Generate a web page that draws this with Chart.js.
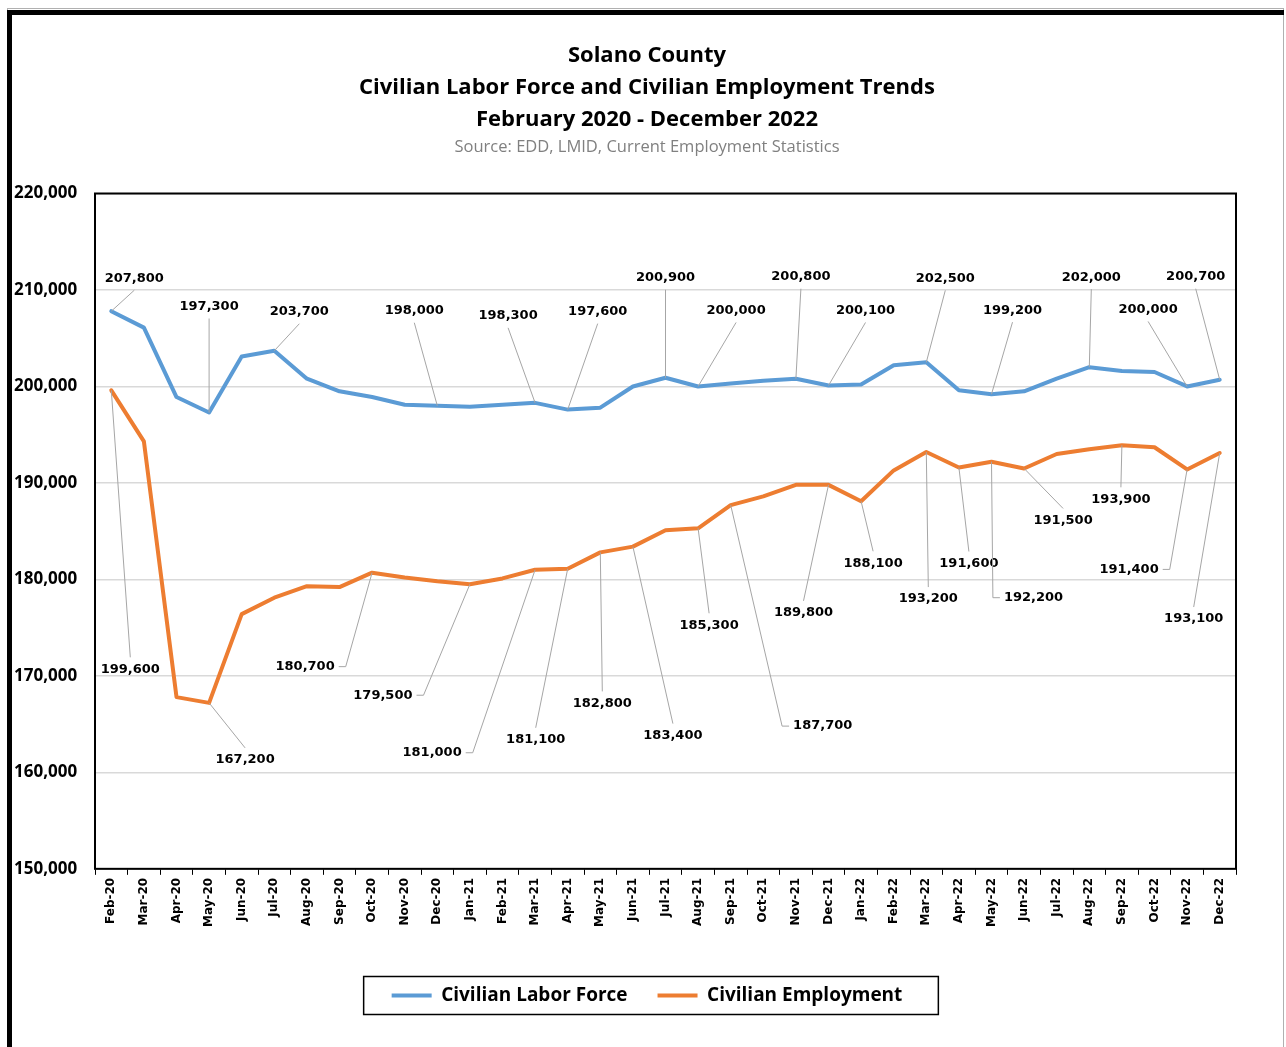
<!DOCTYPE html>
<html>
<head>
<meta charset="utf-8">
<title>Solano County Labor Force</title>
<script src="https://cdn.jsdelivr.net/npm/chart.js@4/dist/chart.umd.min.js"></script>
<style>
  html, body { margin: 0; padding: 0; background: #fff; }
  #wrap { position: relative; width: 1286px; height: 1047px; }
</style>
</head>
<body>
<div id="wrap"><canvas id="chart" width="1286" height="1047"></canvas></div>
<script>
const months = [
  "Feb-20", "Mar-20", "Apr-20", "May-20", "Jun-20", "Jul-20", "Aug-20", "Sep-20",
  "Oct-20", "Nov-20", "Dec-20", "Jan-21", "Feb-21", "Mar-21", "Apr-21", "May-21",
  "Jun-21", "Jul-21", "Aug-21", "Sep-21", "Oct-21", "Nov-21", "Dec-21", "Jan-22",
  "Feb-22", "Mar-22", "Apr-22", "May-22", "Jun-22", "Jul-22", "Aug-22", "Sep-22",
  "Oct-22", "Nov-22", "Dec-22"
];

const laborForce = [
  207800, 206100, 198900, 197300, 203100, 203700, 200800, 199500,
  198900, 198100, 198000, 197900, 198100, 198300, 197600, 197800,
  200000, 200900, 200000, 200300, 200600, 200800, 200100, 200200,
  202200, 202500, 199600, 199200, 199500, 200800, 202000, 201600,
  201500, 200000, 200700
];

const employment = [
  199600, 194300, 167800, 167200, 176400, 178100, 179300, 179200,
  180700, 180200, 179800, 179500, 180100, 181000, 181100, 182800,
  183400, 185100, 185300, 187700, 188600, 189800, 189800, 188100,
  191300, 193200, 191600, 192200, 191500, 193000, 193500, 193900,
  193700, 191400, 193100
];

const yTickValues = [150000, 160000, 170000, 180000, 190000, 200000, 210000, 220000];

// where each called-out value's label sits, relative to its point (px)
const laborLabelOffsets = {
  0: [23, -33], 3: [0, -106], 5: [25, -39], 10: [-23, -95], 13: [-27, -87],
  14: [30, -98], 17: [0, -100], 18: [38, -76], 21: [5, -102], 22: [37, -75],
  25: [19, -84], 27: [21, -84], 30: [2, -90], 33: [-39, -77], 34: [-24, -103]
};
const employmentLabelOffsets = {
  0: [19, 279], 3: [36, 57], 8: [-67, 94], 11: [-87, 111], 13: [-103, 183],
  14: [-32, 171], 15: [2, 151], 16: [40, 189], 18: [11, 97], 19: [92, 221],
  22: [-25, 128], 23: [12, 62], 25: [2, 147], 26: [10, 96], 27: [42, 136],
  28: [39, 52], 31: [-1, 54], 33: [-58, 100], 34: [-26, 166]
};

const BLUE = "#5b9bd5";
const ORANGE = "#ed7d31";
const fmt = (v) => v.toLocaleString("en-US");

// outer frame of the picture, plot border and legend box
const framePlugin = {
  id: "frame",
  beforeDraw(chart) {
    const ctx = chart.ctx;
    ctx.save();
    ctx.fillStyle = "#fff";
    ctx.fillRect(0, 0, chart.width, chart.height);
    ctx.strokeStyle = "#b0b0b0";
    ctx.lineWidth = 1;
    ctx.strokeRect(7.5, 8.5, 1276, 1050);
    ctx.fillStyle = "#000";
    ctx.fillRect(7, 10, 1277, 5);
    ctx.fillRect(7, 10, 5, chart.height);
    ctx.restore();
  },
  afterDraw(chart) {
    const ctx = chart.ctx;
    const a = chart.chartArea;
    ctx.save();
    ctx.strokeStyle = "#000";
    ctx.lineWidth = 2;
    ctx.strokeRect(a.left, a.top, a.right - a.left, a.bottom - a.top);

    const boxes = chart.legend.legendHitBoxes;
    if (boxes && boxes.length) {
      const left = Math.min(...boxes.map((b) => b.left));
      const right = Math.max(...boxes.map((b) => b.left + b.width));
      const mid = boxes[0].top + boxes[0].height / 2;
      ctx.lineWidth = 1.5;
      ctx.strokeRect(left - 28, mid - 19, right - left + 64, 38);
    }
    ctx.restore();
  }
};

// Excel-style callout labels with leader lines
const calloutPlugin = {
  id: "callouts",
  afterDatasetsDraw(chart) {
    const ctx = chart.ctx;
    const sets = [laborLabelOffsets, employmentLabelOffsets];
    ctx.save();
    ctx.font = "bold 13px 'DejaVu Sans'";
    ctx.textAlign = "center";
    ctx.textBaseline = "middle";
    sets.forEach((offsets, di) => {
      const meta = chart.getDatasetMeta(di);
      const values = chart.data.datasets[di].data;
      Object.keys(offsets).forEach((key) => {
        const i = Number(key);
        const pt = meta.data[i];
        const text = fmt(values[i]);
        const [dx, dy] = offsets[key];
        const cx = pt.x + dx;
        const cy = pt.y + dy;
        const halfW = ctx.measureText(text).width / 2;
        const halfH = 8;

        ctx.strokeStyle = "#a6a6a6";
        ctx.lineWidth = 1;
        ctx.beginPath();
        ctx.moveTo(pt.x, pt.y);
        if (Math.abs(pt.x - cx) > halfW + 12) {
          const side = Math.sign(pt.x - cx);
          ctx.lineTo(cx + side * (halfW + 11), cy);
          ctx.lineTo(cx + side * (halfW + 4), cy);
        } else if (pt.y < cy) {
          ctx.lineTo(cx, cy - halfH - 4);
        } else {
          ctx.lineTo(cx, cy + halfH + 4);
        }
        ctx.stroke();

        ctx.fillStyle = "#000";
        ctx.fillText(text, cx, cy);
      });
    });
    ctx.restore();
  }
};

new Chart(document.getElementById("chart"), {
  type: "line",
  data: {
    labels: months,
    datasets: [
      {
        label: "Civilian Labor Force",
        data: laborForce,
        borderColor: BLUE,
        backgroundColor: BLUE,
        borderWidth: 4,
        borderCapStyle: "round",
        borderJoinStyle: "round",
        pointRadius: 0,
        tension: 0,
      },
      {
        label: "Civilian Employment",
        data: employment,
        borderColor: ORANGE,
        backgroundColor: ORANGE,
        borderWidth: 4,
        borderCapStyle: "round",
        borderJoinStyle: "round",
        pointRadius: 0,
        tension: 0,
      },
    ],
  },
  options: {
    responsive: false,
    animation: false,
    layout: {padding: {left: 14, right: 6, top: 0, bottom: 32}},
    plugins: {
      title: {
        display: true,
        text: [
          "Solano County",
          "Civilian Labor Force and Civilian Employment Trends",
          "February 2020 - December 2022",
        ],
        color: "#000",
        font: {family: "'Open Sans'", size: 22, weight: "bold", lineHeight: 1.45},
        padding: {top: 40, bottom: 0},
      },
      subtitle: {
        display: true,
        text: "Source: EDD, LMID, Current Employment Statistics",
        color: "#808080",
        font: {family: "'Open Sans'", size: 16.5, lineHeight: 1.2},
        padding: {top: 2, bottom: 36},
      },
      legend: {
        position: "bottom",
        labels: {
          color: "#000",
          font: {family: "'Open Sans'", size: 19, weight: "bold"},
          usePointStyle: true,
          pointStyle: "line",
          pointStyleWidth: 40,
          padding: 30,
        },
      },
      tooltip: {enabled: false},
    },
    scales: {
      x: {
        offset: true,
        afterFit(scale) {
          scale.height += 26;
        },
        grid: {
          offset: true,
          drawOnChartArea: false,
          drawTicks: true,
          tickLength: 6,
          color: "#000",
        },
        border: {display: false},
        ticks: {
          autoSkip: false,
          maxRotation: 90,
          minRotation: 90,
          color: "#000",
          padding: 3,
          font: {family: "'DejaVu Sans'", size: 12, weight: "bold"},
        },
      },
      y: {
        min: 150000,
        max: 220000,
        afterBuildTicks(scale) {
          scale.ticks = yTickValues.map((v) => ({value: v}));
        },
        afterFit(scale) {
          scale.width = 81;
        },
        grid: {color: "#d9d9d9", lineWidth: 1.5, drawTicks: false},
        border: {display: false},
        ticks: {
          crossAlign: "far",
          padding: 0,
          color: "#000",
          font: {family: "'Open Sans'", size: 17, weight: "bold"},
          callback: (v) => fmt(v),
        },
      },
      // empty right-hand strip, keeps the plot where the original has it
      spacer: {
        type: "linear",
        position: "right",
        afterFit(scale) {
          scale.width = 44;
        },
        grid: {display: false},
        border: {display: false},
        ticks: {display: false},
      },
    },
  },
  plugins: [framePlugin, calloutPlugin],
});
</script>
</body>
</html>
